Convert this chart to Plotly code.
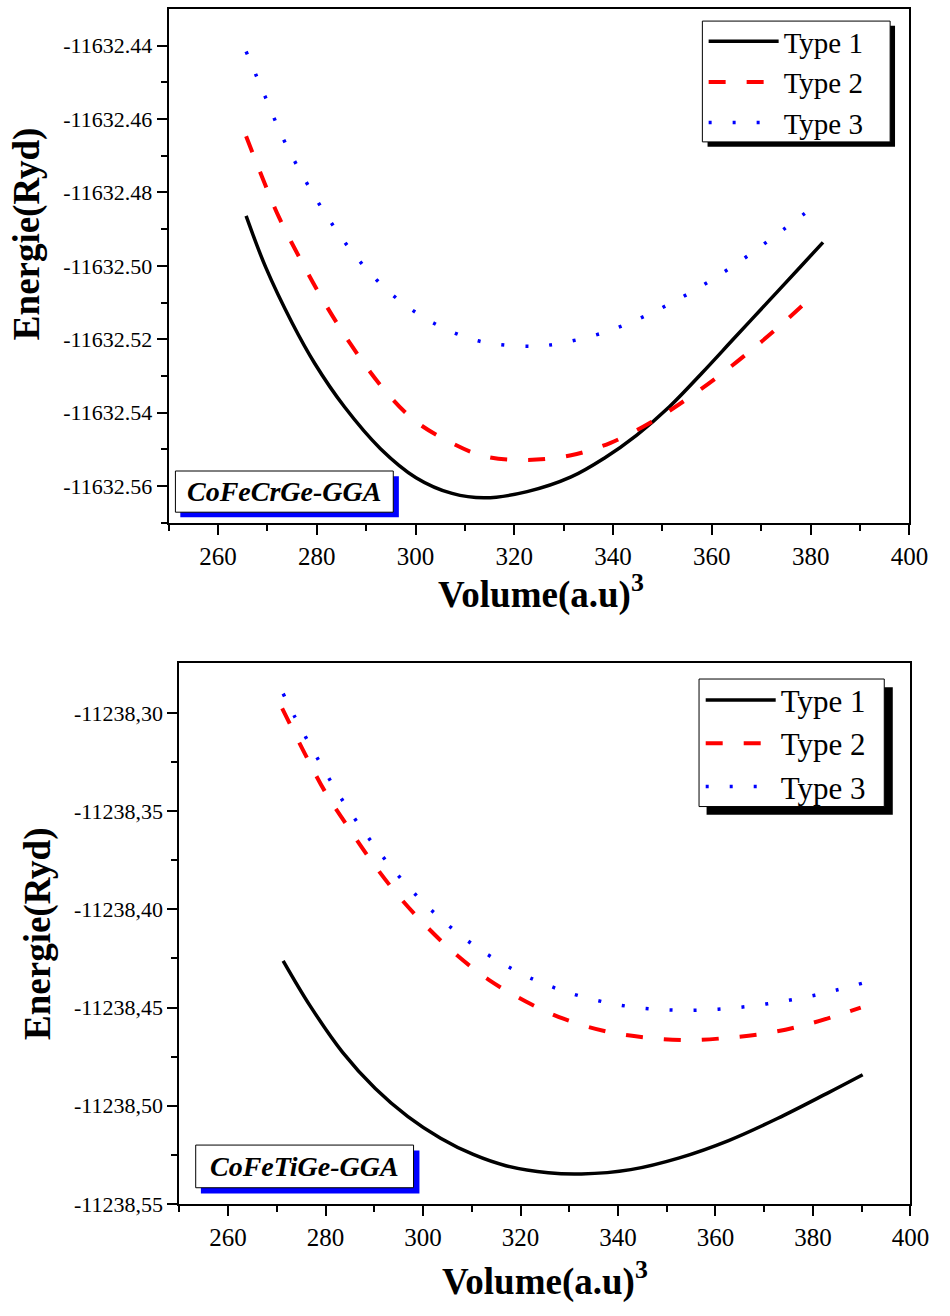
import plotly.graph_objects as go

FONT = "Liberation Serif"

# ---------------- Top panel: CoFeCrGe-GGA ----------------
top_vol_type1 = [265.7, 269.7, 275.0, 279.6, 285.6, 292.9, 300.1, 307.4, 314.0, 322.6,
                 331.5, 338.2, 344.8, 351.4, 358.0, 364.6, 371.3, 377.9, 382.5]
top_e_type1 = [-11632.4864, -11632.5005, -11632.5155, -11632.5266, -11632.5384, -11632.5498,
               -11632.5577, -11632.5620, -11632.5632, -11632.5615, -11632.5575, -11632.5524,
               -11632.5461, -11632.5384, -11632.5292, -11632.5196, -11632.5099, -11632.5003,
               -11632.4936]

top_vol_type2 = [265.7, 269.0, 272.3, 277.0, 281.6, 286.9, 292.9, 299.5, 306.8, 314.0,
                 322.6, 331.5, 339.5, 346.8, 353.4, 360.7, 367.3, 373.9, 380.9]
top_e_type2 = [-11632.4647, -11632.4760, -11632.4866, -11632.4990, -11632.5101, -11632.5214,
               -11632.5325, -11632.5418, -11632.5479, -11632.5519, -11632.5529, -11632.5516,
               -11632.5482, -11632.5433, -11632.5377, -11632.5307, -11632.5237, -11632.5162,
               -11632.5076]

top_vol_type3 = [265.7, 269.5, 273.3, 277.8, 282.8, 288.5, 295.5, 303.8, 313.2, 323.5,
                 328.5, 338.5, 347.8, 356.4, 364.9, 372.9, 380.7]
top_e_type3 = [-11632.4416, -11632.4537, -11632.4656, -11632.4770, -11632.4880, -11632.4984,
               -11632.5081, -11632.5157, -11632.5206, -11632.5219, -11632.5213, -11632.5180,
               -11632.5128, -11632.5067, -11632.4995, -11632.4917, -11632.4838]

# ---------------- Bottom panel: CoFeTiGe-GGA ----------------
bot_vol_type1 = [271.3, 276.8, 283.5, 290.2, 296.9, 303.6, 310.3, 317.0, 325.7, 332.5,
                 342.6, 352.6, 362.7, 372.7, 382.8, 390.2]
bot_e_type1 = [-11238.4262, -11238.4490, -11238.4728, -11238.4912, -11238.5055, -11238.5165,
               -11238.5248, -11238.5305, -11238.5341, -11238.5347, -11238.5325, -11238.5265,
               -11238.5177, -11238.5065, -11238.4938, -11238.4842]

bot_vol_type2 = [271.1, 275.8, 279.8, 284.5, 289.4, 294.6, 300.3, 306.6, 313.5, 321.0,
                 328.8, 337.5, 345.9, 354.5, 363.0, 371.4, 379.8, 389.8]
bot_e_type2 = [-11238.2977, -11238.3210, -11238.3397, -11238.3577, -11238.3754, -11238.3921,
               -11238.4077, -11238.4226, -11238.4359, -11238.4468, -11238.4557, -11238.4621,
               -11238.4653, -11238.4666, -11238.4653, -11238.4627, -11238.4579, -11238.4500]

bot_vol_type3 = [271.3, 273.6, 278.5, 283.7, 289.6, 295.9, 303.1, 311.4, 320.5, 325.2,
                 330.2, 340.0, 350.1, 360.3, 370.4, 380.4, 390.3]
bot_e_type3 = [-11238.2902, -11238.3016, -11238.3238, -11238.3454, -11238.3662, -11238.3856,
               -11238.4036, -11238.4200, -11238.4332, -11238.4382, -11238.4427, -11238.4486,
               -11238.4512, -11238.4509, -11238.4482, -11238.4437, -11238.4375]

series_names = ["Type 1", "Type 2", "Type 3"]

# tick labels
x_tickvals = [260, 280, 300, 320, 340, 360, 380, 400]
top_y_tickvals = [-11632.56, -11632.54, -11632.52, -11632.50, -11632.48, -11632.46, -11632.44]
top_y_ticktext = ["-11632.56", "-11632.54", "-11632.52", "-11632.50", "-11632.48", "-11632.46", "-11632.44"]
bot_y_tickvals = [-11238.55, -11238.50, -11238.45, -11238.40, -11238.35, -11238.30]
bot_y_ticktext = ["-11238,55", "-11238,50", "-11238,45", "-11238,40", "-11238,35", "-11238,30"]

W, H = 950, 1316


def px(xp):
    return xp / W


def py(yp):
    return 1 - yp / H


fig = go.Figure()

styles = [
    dict(color="black", width=3.5, dash="solid"),
    dict(color="#ff0000", width=4, dash="17px,21px"),
    dict(color="#0000ff", width=3.5, dash="3px,21px"),
]

top_data = [(top_vol_type1, top_e_type1), (top_vol_type2, top_e_type2), (top_vol_type3, top_e_type3)]
bot_data = [(bot_vol_type1, bot_e_type1), (bot_vol_type2, bot_e_type2), (bot_vol_type3, bot_e_type3)]

for name, (xs, ys), st in zip(series_names, top_data, styles):
    fig.add_trace(go.Scatter(x=xs, y=ys, mode="lines", name=name, line=dict(shape="spline", **st),
                             xaxis="x", yaxis="y", legend="legend"))
for name, (xs, ys), st in zip(series_names, bot_data, styles):
    fig.add_trace(go.Scatter(x=xs, y=ys, mode="lines", name=name, line=dict(shape="spline", **st),
                             xaxis="x2", yaxis="y2", legend="legend2"))

axis_common = dict(showline=True, linecolor="black", linewidth=2, mirror=True, ticks="outside",
                   ticklen=10, tickwidth=2, tickcolor="black", showgrid=False, zeroline=False)

x_minor = dict(ticks="outside", ticklen=6, tickwidth=2, tickcolor="black", tick0=250, dtick=10)


def mids(vals):
    v = sorted(vals)
    return [(a + b) / 2 for a, b in zip(v[:-1], v[1:])]


top_minor = sorted(mids(top_y_tickvals) + [top_y_tickvals[0] - 0.01])
bot_minor = mids(bot_y_tickvals)

fig.update_layout(
    width=W, height=H, margin=dict(l=0, r=0, t=0, b=0),
    paper_bgcolor="white", plot_bgcolor="white",
    font=dict(family=FONT, color="black"),
    xaxis=dict(domain=[px(172), px(928)], range=[250, 400], anchor="y",
               tickmode="array", tickvals=x_tickvals, minor=x_minor,
               tickfont=dict(family=FONT, size=25, color="black"), **axis_common),
    yaxis=dict(domain=[py(528), py(9)], range=[-11632.57, -11632.43], anchor="x",
               tickmode="array", tickvals=top_y_tickvals, ticktext=top_y_ticktext,
               minor=dict(ticks="outside", ticklen=6, tickwidth=2, tickcolor="black", tickvals=top_minor),
               tickfont=dict(family=FONT, size=22, color="black"), **axis_common),
    xaxis2=dict(domain=[px(183), px(929)], range=[250, 400], anchor="y2",
                tickmode="array", tickvals=x_tickvals, minor=x_minor,
                tickfont=dict(family=FONT, size=25, color="black"), **axis_common),
    yaxis2=dict(domain=[py(1216), py(670)], range=[-11238.55, -11238.2748], anchor="x2",
                tickmode="array", tickvals=bot_y_tickvals, ticktext=bot_y_ticktext,
                minor=dict(ticks="outside", ticklen=6, tickwidth=2, tickcolor="black", tickvals=bot_minor),
                tickfont=dict(family=FONT, size=22, color="black"), **axis_common),
    legend=dict(x=px(718), y=py(16), xanchor="left", yanchor="top", bgcolor="rgba(0,0,0,0)",
                borderwidth=0, font=dict(family=FONT, size=29, color="black"),
                itemwidth=70, tracegroupgap=0),
    legend2=dict(x=px(715), y=py(680), xanchor="left", yanchor="top", bgcolor="rgba(0,0,0,0)",
                 borderwidth=0, font=dict(family=FONT, size=31, color="black"),
                 itemwidth=70, tracegroupgap=0),
)

shapes = []
# legend frames with black drop shadow
shapes.append(dict(type="rect", xref="paper", yref="paper", x0=px(722), x1=px(913.3), y0=py(148.3), y1=py(26),
                   fillcolor="black", line=dict(width=0), layer="above"))
shapes.append(dict(type="rect", xref="paper", yref="paper", x0=px(716.7), x1=px(908.3), y0=py(143.3), y1=py(21.3),
                   fillcolor="white", line=dict(color="black", width=1), layer="above"))
shapes.append(dict(type="rect", xref="paper", yref="paper", x0=px(721), x1=px(911), y0=py(823), y1=py(694),
                   fillcolor="black", line=dict(width=0), layer="above"))
shapes.append(dict(type="rect", xref="paper", yref="paper", x0=px(713.3), x1=px(902.3), y0=py(814.6), y1=py(685.8),
                   fillcolor="white", line=dict(color="black", width=1), layer="above"))
# label boxes: blue shadow + white framed box
shapes.append(dict(type="rect", xref="paper", yref="paper", x0=px(184), x1=px(407), y0=py(522.3), y1=py(481),
                   fillcolor="#0000ff", line=dict(width=0), layer="above"))
shapes.append(dict(type="rect", xref="paper", yref="paper", x0=px(179), x1=px(401.3), y0=py(517.3), y1=py(475.7),
                   fillcolor="white", line=dict(color="black", width=1), layer="above"))
shapes.append(dict(type="rect", xref="paper", yref="paper", x0=px(205), x1=px(428), y0=py(1205.5), y1=py(1162),
                   fillcolor="#0000ff", line=dict(width=0), layer="above"))
shapes.append(dict(type="rect", xref="paper", yref="paper", x0=px(199.7), x1=px(422), y0=py(1199.6), y1=py(1156.5),
                   fillcolor="white", line=dict(color="black", width=1), layer="above"))
fig.update_layout(shapes=shapes)

annotations = [
    dict(text="<b><i>CoFeCrGe-GGA</i></b>", x=px(290), y=py(496.5), xref="paper", yref="paper",
         showarrow=False, xanchor="center", yanchor="middle", font=dict(family=FONT, size=28, color="black")),
    dict(text="<b><i>CoFeTiGe-GGA</i></b>", x=px(311), y=py(1178), xref="paper", yref="paper",
         showarrow=False, xanchor="center", yanchor="middle", font=dict(family=FONT, size=28, color="black")),
    dict(text="<b>Energie(Ryd)</b>", x=px(27), y=py(236), xref="paper", yref="paper", textangle=-90,
         showarrow=False, xanchor="center", yanchor="middle", font=dict(family=FONT, size=37, color="black")),
    dict(text="<b>Energie(Ryd)</b>", x=px(38), y=py(943), xref="paper", yref="paper", textangle=-90,
         showarrow=False, xanchor="center", yanchor="middle", font=dict(family=FONT, size=37, color="black")),
    dict(text="<b>Volume(a.u)<sup>3</sup></b>", x=px(552), y=py(598), xref="paper", yref="paper",
         showarrow=False, xanchor="center", yanchor="middle", font=dict(family=FONT, size=37, color="black")),
    dict(text="<b>Volume(a.u)<sup>3</sup></b>", x=px(556), y=py(1292), xref="paper", yref="paper",
         showarrow=False, xanchor="center", yanchor="middle", font=dict(family=FONT, size=37, color="black")),
]
fig.update_layout(annotations=annotations)

fig.write_html("out.html")
